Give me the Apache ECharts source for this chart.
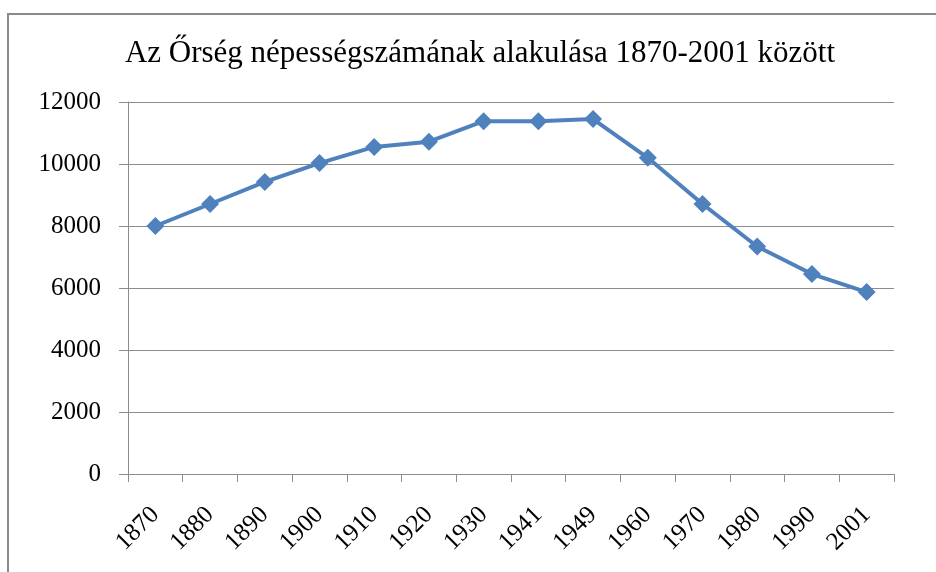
<!DOCTYPE html>
<html>
<head>
<meta charset="utf-8">
<script src="https://cdn.jsdelivr.net/npm/echarts@6/dist/echarts.min.js"></script>
<style>
html,body{margin:0;padding:0;background:#fff;}
#chart{width:936px;height:572px;}
</style>
</head>
<body>
<div id="chart"></div>
<script>
const titleText = 'Az Őrség népességszámának alakulása 1870-2001 között';
const years = ['1870','1880','1890','1900','1910','1920','1930','1941','1949','1960','1970','1980','1990','2001'];
const population = [8000, 8710, 9420, 10030, 10550, 10720, 11380, 11380, 11450, 10200, 8710, 7340, 6450, 5870];
const yMin = 0, yMax = 12000, yStep = 2000;

const font = '"Liberation Serif", "Times New Roman", serif';
const chart = echarts.init(document.getElementById('chart'), null, {renderer: 'canvas'});
chart.setOption({
  animation: false,
  backgroundColor: '#fff',
  title: {
    text: titleText,
    left: 475, top: 33, textAlign: 'center',
    textStyle: {fontFamily: font, fontSize: 31, fontWeight: 'normal', color: '#000'}
  },
  graphic: [{
    type: 'polyline',
    shape: {points: [[8, 580], [8, 14], [940, 14]]},
    style: {stroke: '#8a8a8a', lineWidth: 2, fill: null}
  }],
  grid: {left: 128, right: 42, top: 102, bottom: 98},
  xAxis: {
    type: 'category',
    data: years,
    boundaryGap: true,
    axisLine: {lineStyle: {color: '#8c8c8c', width: 1}},
    axisTick: {show: true, length: 8, lineStyle: {color: '#8c8c8c'}},
    axisLabel: {rotate: 45, margin: 37, fontFamily: font, fontSize: 25, color: '#000', interval: 0}
  },
  yAxis: {
    type: 'value',
    min: yMin, max: yMax, interval: yStep,
    axisLine: {show: true, lineStyle: {color: '#8c8c8c', width: 1}},
    axisTick: {show: true, length: 9, lineStyle: {color: '#8c8c8c'}},
    splitLine: {show: true, lineStyle: {color: '#8c8c8c', width: 1}},
    axisLabel: {margin: 27, fontFamily: font, fontSize: 25, color: '#000', formatter: v => String(v)}
  },
  series: [{
    type: 'line',
    data: population,
    symbol: 'diamond',
    symbolSize: 18,
    lineStyle: {color: '#4F81BD', width: 4},
    itemStyle: {color: '#4F81BD'}
  }]
});
</script>
</body>
</html>
